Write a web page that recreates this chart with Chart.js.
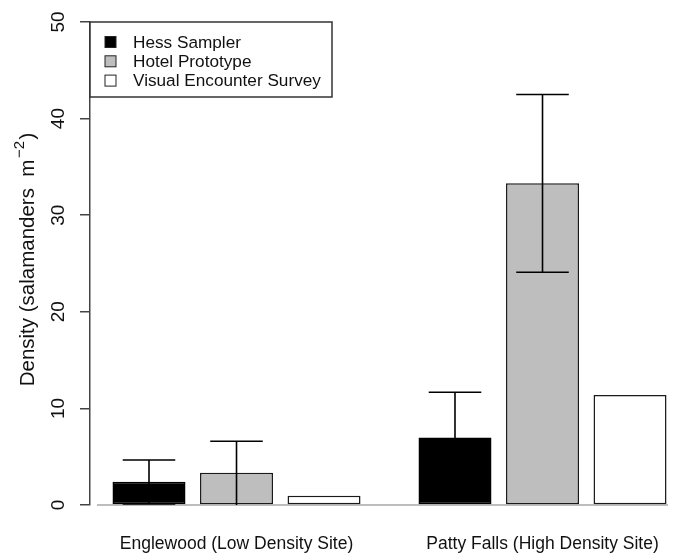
<!DOCTYPE html>
<html>
<head>
<meta charset="utf-8">
<script src="https://cdn.jsdelivr.net/npm/chart.js@4/dist/chart.umd.min.js"></script>
<style>
  html, body { margin: 0; padding: 0; background: #ffffff; }
  #wrap { width: 680px; height: 557px; }
</style>
</head>
<body>
<div id="wrap"><canvas id="c" width="680" height="557"></canvas></div>
<script>
// ---- data ----
const categories = ['Englewood (Low Density Site)', 'Patty Falls (High Density Site)'];
const categoryPositions = [1, 2];
const seriesNames = ['Hess Sampler', 'Hotel Prototype', 'Visual Encounter Survey'];
const hessMeans  = [2.4, 7.0];
const hessLow    = [0.1, 2.3];
const hessHigh   = [4.66, 11.67];
const hotelMeans = [3.35, 33.3];
const hotelLow   = [0, 24.1];
const hotelHigh  = [6.6, 42.5];
const vesMeans   = [0.95, 11.4];
const yTicks     = [0, 10, 20, 30, 40, 50];
// y-axis title: main text, superscript, closing text
const yTitleParts = ['Density (salamanders  m', '\u22122', ')'];

const FONT = '"Liberation Sans", Arial, Helvetica, sans-serif';

function points(vals) { return vals.map((v, i) => ({ x: categoryPositions[i], y: v })); }

const errorBars = [
  { low: hessLow, high: hessHigh },
  { low: hotelLow, high: hotelHigh },
  null
];

const errorBarPlugin = {
  id: 'errorBars',
  afterDatasetsDraw(chart) {
    const ctx = chart.ctx;
    const ys = chart.scales.y;
    ctx.save();
    ctx.strokeStyle = '#000000';
    ctx.lineWidth = 1.6;
    chart.data.datasets.forEach((ds, di) => {
      const eb = errorBars[di];
      if (!eb) return;
      const meta = chart.getDatasetMeta(di);
      meta.data.forEach((bar, i) => {
        const x = bar.x;
        const yLo = ys.getPixelForValue(eb.low[i]);
        const yHi = ys.getPixelForValue(eb.high[i]);
        const half = bar.width * 0.36;
        ctx.beginPath();
        ctx.moveTo(x, yLo); ctx.lineTo(x, yHi);
        ctx.moveTo(x - half, yHi); ctx.lineTo(x + half, yHi);
        if (eb.low[i] > 0) { ctx.moveTo(x - half, yLo); ctx.lineTo(x + half, yLo); }
        ctx.stroke();
      });
    });
    ctx.restore();
  }
};

const baselinePlugin = {
  id: 'baseline',
  beforeDatasetsDraw(chart) {
    const ctx = chart.ctx;
    const y0 = chart.scales.y.getPixelForValue(0);
    const a = chart.chartArea;
    ctx.save();
    ctx.strokeStyle = '#bdbdbd';
    ctx.lineWidth = 2;
    ctx.beginPath();
    ctx.moveTo(a.left + 7, y0);
    ctx.lineTo(a.right, y0);
    ctx.stroke();
    ctx.restore();
  }
};

const yTitlePlugin = {
  id: 'yTitle',
  afterDraw(chart) {
    const ctx = chart.ctx;
    const a = chart.chartArea;
    const mainFont = '20.5px ' + FONT;
    const supFont = '15px ' + FONT;
    ctx.save();
    ctx.font = mainFont;
    const w0 = ctx.measureText(yTitleParts[0]).width;
    const w2 = ctx.measureText(yTitleParts[2]).width;
    ctx.font = supFont;
    const w1 = ctx.measureText(yTitleParts[1]).width;
    const gap = 1.5;
    const total = w0 + gap + w1 + gap + w2;
    ctx.translate(28, (a.top + a.bottom) / 2 - 4);
    ctx.rotate(-Math.PI / 2);
    ctx.fillStyle = '#111';
    ctx.textBaseline = 'middle';
    ctx.textAlign = 'left';
    let x = -total / 2;
    ctx.font = mainFont;
    ctx.fillText(yTitleParts[0], x, 0);
    x += w0 + gap;
    ctx.font = supFont;
    ctx.fillText(yTitleParts[1], x, -8);
    x += w1 + gap;
    ctx.font = mainFont;
    ctx.fillText(yTitleParts[2], x, 0);
    ctx.restore();
  }
};

const legendBoxPlugin = {
  id: 'legendBox',
  afterDraw(chart) {
    const ctx = chart.ctx;
    const a = chart.chartArea;
    const left = a.left, top = a.top;
    const w = 242, h = 75;
    ctx.save();
    ctx.fillStyle = '#ffffff';
    ctx.fillRect(left, top, w, h);
    ctx.strokeStyle = '#333333';
    ctx.lineWidth = 1.5;
    ctx.strokeRect(left, top, w, h);
    ctx.font = '17.2px ' + FONT;
    ctx.textBaseline = 'middle';
    ctx.textAlign = 'left';
    chart.data.datasets.forEach((ds, i) => {
      const cy = top + 20 + i * 19.3;
      ctx.fillStyle = ds.backgroundColor;
      ctx.fillRect(left + 15, cy - 5.5, 11, 11);
      ctx.strokeStyle = '#222';
      ctx.lineWidth = 1;
      ctx.strokeRect(left + 15, cy - 5.5, 11, 11);
      ctx.fillStyle = '#111';
      ctx.fillText(ds.label, left + 43, cy + 1);
    });
    ctx.restore();
  }
};

const barStyle = { borderWidth: 1.5, borderSkipped: false };

new Chart(document.getElementById('c'), {
  type: 'bar',
  data: {
    datasets: [
      Object.assign({ label: seriesNames[0], data: points(hessMeans),  backgroundColor: '#000000', borderColor: '#000000' }, barStyle),
      Object.assign({ label: seriesNames[1], data: points(hotelMeans), backgroundColor: '#bebebe', borderColor: '#1a1a1a' }, barStyle),
      Object.assign({ label: seriesNames[2], data: points(vesMeans),   backgroundColor: '#ffffff', borderColor: '#1a1a1a' }, barStyle)
    ]
  },
  options: {
    responsive: false,
    animation: false,
    devicePixelRatio: 1,
    layout: { padding: { top: 22, right: 12, left: 0, bottom: 0 } },
    datasets: { bar: { categoryPercentage: 0.858, barPercentage: 0.834 } },
    plugins: { legend: { display: false }, tooltip: { enabled: false } },
    scales: {
      x: {
        type: 'linear',
        min: 0.5212,
        max: 2.4101,
        offset: false,
        grid: { display: false, drawTicks: false, offset: false },
        border: { display: false },
        afterBuildTicks: (scale) => { scale.ticks = categoryPositions.map(v => ({ value: v })); },
        afterFit: (scale) => { scale.height = 52; scale.paddingLeft = 0; scale.paddingRight = 0; },
        ticks: {
          autoSkip: false,
          maxRotation: 0,
          minRotation: 0,
          padding: 28.5,
          color: '#111',
          font: { family: FONT, size: 17.5 },
          callback: (v) => categories[categoryPositions.indexOf(v)] || ''
        }
      },
      y: {
        min: 0,
        max: 50,
        afterBuildTicks: (scale) => { scale.ticks = yTicks.map(v => ({ value: v })); },
        afterFit: (scale) => { scale.width = 90; scale.paddingTop = 0; scale.paddingBottom = 0; },
        grid: { drawOnChartArea: false, drawTicks: true, tickLength: 10, color: '#444', lineWidth: 1.5 },
        border: { display: true, color: '#444', width: 1.5 },
        ticks: {
          minRotation: 90,
          maxRotation: 90,
          crossAlign: 'center',
          padding: 10.5,
          color: '#111',
          font: { family: FONT, size: 19 }
        },
        title: { display: false }
      }
    }
  },
  plugins: [baselinePlugin, errorBarPlugin, legendBoxPlugin, yTitlePlugin]
});
</script>
</body>
</html>
